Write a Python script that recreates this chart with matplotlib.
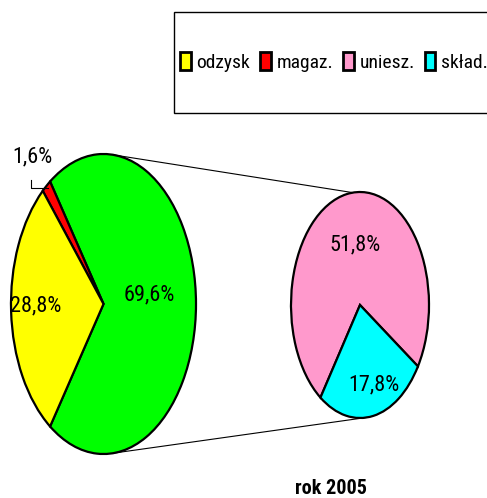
import numpy as np
import matplotlib
matplotlib.use("Agg")
import matplotlib.pyplot as plt
from matplotlib.patches import Rectangle, Patch, ConnectionPatch

plt.rcParams['font.family'] = ['Roboto Condensed', 'DejaVu Sans']

# data
categories = ['odzysk', 'magaz.', 'uniesz.', 'skład.']
values = [28.8, 1.6, 51.8, 17.8]
colors = ['#FFFF00', '#FF0000', '#FF99CC', '#00FFFF']
other_color = '#00FF00'
title = 'rok 2005'

def pct(v):
    return f'{v:.1f}%'.replace('.', ',')

W, H = 487, 498
fig = plt.figure(figsize=(W / 100, H / 100), dpi=100)

def box(x0, y0, x1, y1):
    # pixel box (top-left origin) -> figure fraction rect
    return [x0 / W, 1 - y1 / H, (x1 - x0) / W, (y1 - y0) / H]

ax1 = fig.add_axes(box(11, 154, 196, 454))
ax2 = fig.add_axes(box(291, 192, 429, 418))

wp = dict(edgecolor='black', linewidth=1.6)

# main pie: other (green) on the right, then magaz., odzysk
other = values[2] + values[3]
main_vals = [other, values[1], values[0]]
start1 = -other / 100 * 360 / 2
ax1.pie(main_vals, colors=[other_color, colors[1], colors[0]], startangle=start1,
        counterclock=True, wedgeprops=wp, radius=1, frame=True)

# secondary pie
sub_vals = [values[2], values[3]]
start2 = -32.9
ax2.pie(sub_vals, colors=[colors[2], colors[3]], startangle=start2,
        counterclock=True, wedgeprops=wp, radius=1, frame=True)

for ax in (ax1, ax2):
    ax.set_xlim(-1, 1)
    ax.set_ylim(-1, 1)
    ax.set_aspect('auto')
    ax.axis('off')

fs = 16
ax1.text(0.50, 0.06, pct(other), ha='center', va='center', fontsize=fs)
ax1.text(-0.73, -0.01, pct(values[0]), ha='center', va='center', fontsize=fs)
ax1.text(-0.765, 0.98, pct(values[1]), ha='center', va='center', fontsize=fs, clip_on=False)
ang = np.deg2rad(start1 + other / 100 * 360 + values[1] / 100 * 360 / 2)
ax1.plot([-0.78, -0.78, 0.97 * np.cos(ang)], [0.83, 0.77, 0.77], color='black',
         linewidth=0.8, clip_on=False)
ax2.text(-0.07, 0.53, pct(values[2]), ha='center', va='center', fontsize=fs)
ax2.text(0.20, -0.71, pct(values[3]), ha='center', va='center', fontsize=fs)

# connector lines
for a1, a2 in [(84, 96), (-84, -84)]:
    r1, r2 = np.deg2rad(a1), np.deg2rad(a2)
    cp = ConnectionPatch(xyA=(np.cos(r1), np.sin(r1)), coordsA=ax1.transData,
                         xyB=(np.cos(r2), np.sin(r2)), coordsB=ax2.transData,
                         color='black', linewidth=0.8)
    fig.add_artist(cp)

# legend
fig.add_artist(Rectangle((174 / W, 1 - 113 / H), 0.7, 101 / H, transform=fig.transFigure,
                         facecolor='white', edgecolor='black', linewidth=1.0, zorder=0))
handles = [Patch(facecolor=c, edgecolor='black', linewidth=2.0) for c in colors]
fig.legend(handles, categories, loc='center left', bbox_to_anchor=(180 / W, 1 - 62 / H),
           ncol=4, frameon=False, fontsize=14, handlelength=0.55, handleheight=1.0,
           handletextpad=0.3, columnspacing=0.5, borderpad=0, borderaxespad=0)

fig.text(331 / W, 1 - 488 / H, title, ha='center', va='center', fontsize=14.5, fontweight='bold')

fig.savefig('out.png', dpi=100)
